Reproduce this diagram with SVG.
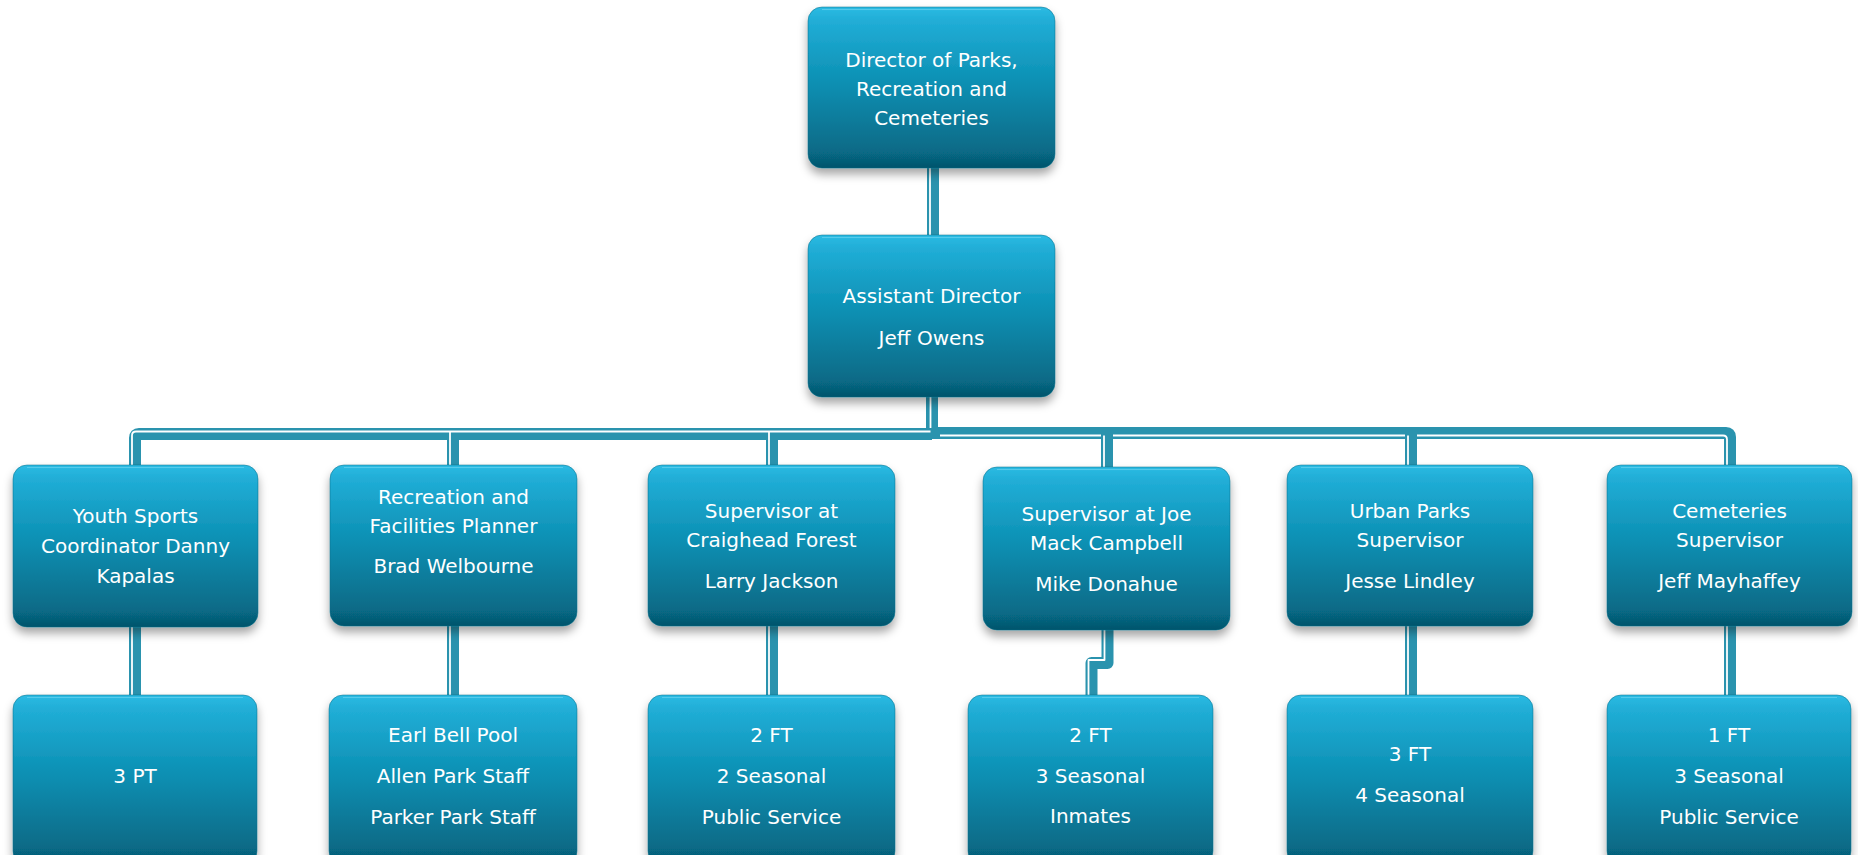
<svg xmlns="http://www.w3.org/2000/svg" width="1858" height="855" viewBox="0 0 1858 855">
<defs>
<linearGradient id="boxg" x1="0" y1="0" x2="0" y2="1">
<stop offset="0" stop-color="#2cbbe3"/>
<stop offset="0.08" stop-color="#21aed7"/>
<stop offset="0.5" stop-color="#0a8db0"/>
<stop offset="0.9" stop-color="#076a86"/>
<stop offset="1" stop-color="#05546b"/>
</linearGradient>
<filter id="sh" x="-10%" y="-10%" width="120%" height="130%">
<feDropShadow dx="0" dy="6" stdDeviation="5" flood-color="#000" flood-opacity="0.35"/>
</filter>
<style>
.box{fill:url(#boxg);stroke:#0a6d88;stroke-width:1;stroke-opacity:0.5;filter:url(#sh)}
.hl{fill:none;stroke:#7fdcf3;stroke-width:1.2;stroke-opacity:0.5}
.t{font-family:"DejaVu Sans",Verdana,sans-serif;font-size:20px;fill:#ffffff;text-anchor:middle}
.c{fill:none;stroke:#2a93ae;stroke-width:12;stroke-linejoin:round}
.w{fill:none;stroke:#ffffff;stroke-width:1.8;stroke-linejoin:round}
</style>
</defs>
<rect width="1858" height="855" fill="#ffffff"/>
<g id="connectors">
<path class="c" d="M933 166 V237"/>
<path class="w" d="M930 166 V237"/>
<path class="c" d="M932 395 V434"/>
<path class="w" d="M930.5 395 V431.5"/>
<path class="c" d="M932 434 H139 Q135 434 135 438 V467"/>
<path class="w" d="M930.5 431.5 H136 Q132 431.5 132 435.5 V467"/>
<path class="c" d="M453 434 V467"/>
<path class="w" d="M450 431.5 V467"/>
<path class="c" d="M772 434 V467"/>
<path class="w" d="M769 431.5 V467"/>
<path class="c" d="M932 433 H1726 Q1730 433 1730 437 V467"/>
<path class="w" d="M940 435.5 H1723 Q1727 435.5 1727 439.5 V467"/>
<path class="c" d="M1107 433 V469"/>
<path class="w" d="M1104 435.5 V469"/>
<path class="c" d="M1411 433 V467"/>
<path class="w" d="M1408 435.5 V467"/>
<path class="c" d="M135 625 V697"/>
<path class="w" d="M132 625 V697"/>
<path class="c" d="M453 625 V697"/>
<path class="w" d="M450 625 V697"/>
<path class="c" d="M772 625 V697"/>
<path class="w" d="M769 625 V697"/>
<path class="c" d="M1107.5 628 V663 H1091.5 V697"/>
<path class="w" d="M1104.5 628 V660 H1088.5 V697"/>
<path class="c" d="M1411 625 V697"/>
<path class="w" d="M1408 625 V697"/>
<path class="c" d="M1730 625 V697"/>
<path class="w" d="M1727 625 V697"/>
</g>
<g id="director">
<rect class="box" x="808" y="7" width="247" height="161" rx="14"/>
<path class="hl" d="M822 9.5 H1041"/>
<text class="t" x="931.5" y="67">Director of Parks,</text>
<text class="t" x="931.5" y="96">Recreation and</text>
<text class="t" x="931.5" y="125">Cemeteries</text>
</g>
<g id="assistant">
<rect class="box" x="808" y="235" width="247" height="162" rx="14"/>
<path class="hl" d="M822 237.5 H1041"/>
<text class="t" x="931.5" y="303">Assistant Director</text>
<text class="t" x="931.5" y="345">Jeff Owens</text>
</g>
<g id="youth">
<rect class="box" x="13" y="465" width="245" height="162" rx="14"/>
<path class="hl" d="M27 467.5 H244"/>
<text class="t" x="135.5" y="523">Youth Sports</text>
<text class="t" x="135.5" y="553">Coordinator Danny</text>
<text class="t" x="135.5" y="583">Kapalas</text>
</g>
<g id="recreation">
<rect class="box" x="330" y="465" width="247" height="161" rx="14"/>
<path class="hl" d="M344 467.5 H563"/>
<text class="t" x="453.5" y="504">Recreation and</text>
<text class="t" x="453.5" y="533">Facilities Planner</text>
<text class="t" x="453.5" y="573">Brad Welbourne</text>
</g>
<g id="craighead">
<rect class="box" x="648" y="465" width="247" height="161" rx="14"/>
<path class="hl" d="M662 467.5 H881"/>
<text class="t" x="771.5" y="518">Supervisor at</text>
<text class="t" x="771.5" y="547">Craighead Forest</text>
<text class="t" x="771.5" y="588">Larry Jackson</text>
</g>
<g id="joemack">
<rect class="box" x="983" y="467" width="247" height="163" rx="14"/>
<path class="hl" d="M997 469.5 H1216"/>
<text class="t" x="1106.5" y="521">Supervisor at Joe</text>
<text class="t" x="1106.5" y="550">Mack Campbell</text>
<text class="t" x="1106.5" y="591">Mike Donahue</text>
</g>
<g id="urban">
<rect class="box" x="1287" y="465" width="246" height="161" rx="14"/>
<path class="hl" d="M1301 467.5 H1519"/>
<text class="t" x="1410" y="518">Urban Parks</text>
<text class="t" x="1410" y="547">Supervisor</text>
<text class="t" x="1410" y="588">Jesse Lindley</text>
</g>
<g id="cemeteries">
<rect class="box" x="1607" y="465" width="245" height="161" rx="14"/>
<path class="hl" d="M1621 467.5 H1838"/>
<text class="t" x="1729.5" y="518">Cemeteries</text>
<text class="t" x="1729.5" y="547">Supervisor</text>
<text class="t" x="1729.5" y="588">Jeff Mayhaffey</text>
</g>
<g id="pt3">
<rect class="box" x="13" y="695" width="244" height="170" rx="14"/>
<path class="hl" d="M27 697.5 H243"/>
<text class="t" x="135" y="783">3 PT</text>
</g>
<g id="pools">
<rect class="box" x="329" y="695" width="248" height="170" rx="14"/>
<path class="hl" d="M343 697.5 H563"/>
<text class="t" x="453" y="742">Earl Bell Pool</text>
<text class="t" x="453" y="783">Allen Park Staff</text>
<text class="t" x="453" y="824">Parker Park Staff</text>
</g>
<g id="craigheadstaff">
<rect class="box" x="648" y="695" width="247" height="170" rx="14"/>
<path class="hl" d="M662 697.5 H881"/>
<text class="t" x="771.5" y="742">2 FT</text>
<text class="t" x="771.5" y="783">2 Seasonal</text>
<text class="t" x="771.5" y="824">Public Service</text>
</g>
<g id="joemackstaff">
<rect class="box" x="968" y="695" width="245" height="170" rx="14"/>
<path class="hl" d="M982 697.5 H1199"/>
<text class="t" x="1090.5" y="742">2 FT</text>
<text class="t" x="1090.5" y="783">3 Seasonal</text>
<text class="t" x="1090.5" y="823">Inmates</text>
</g>
<g id="urbanstaff">
<rect class="box" x="1287" y="695" width="246" height="170" rx="14"/>
<path class="hl" d="M1301 697.5 H1519"/>
<text class="t" x="1410" y="761">3 FT</text>
<text class="t" x="1410" y="802">4 Seasonal</text>
</g>
<g id="cemeteriesstaff">
<rect class="box" x="1607" y="695" width="244" height="170" rx="14"/>
<path class="hl" d="M1621 697.5 H1837"/>
<text class="t" x="1729" y="742">1 FT</text>
<text class="t" x="1729" y="783">3 Seasonal</text>
<text class="t" x="1729" y="824">Public Service</text>
</g>
</svg>
